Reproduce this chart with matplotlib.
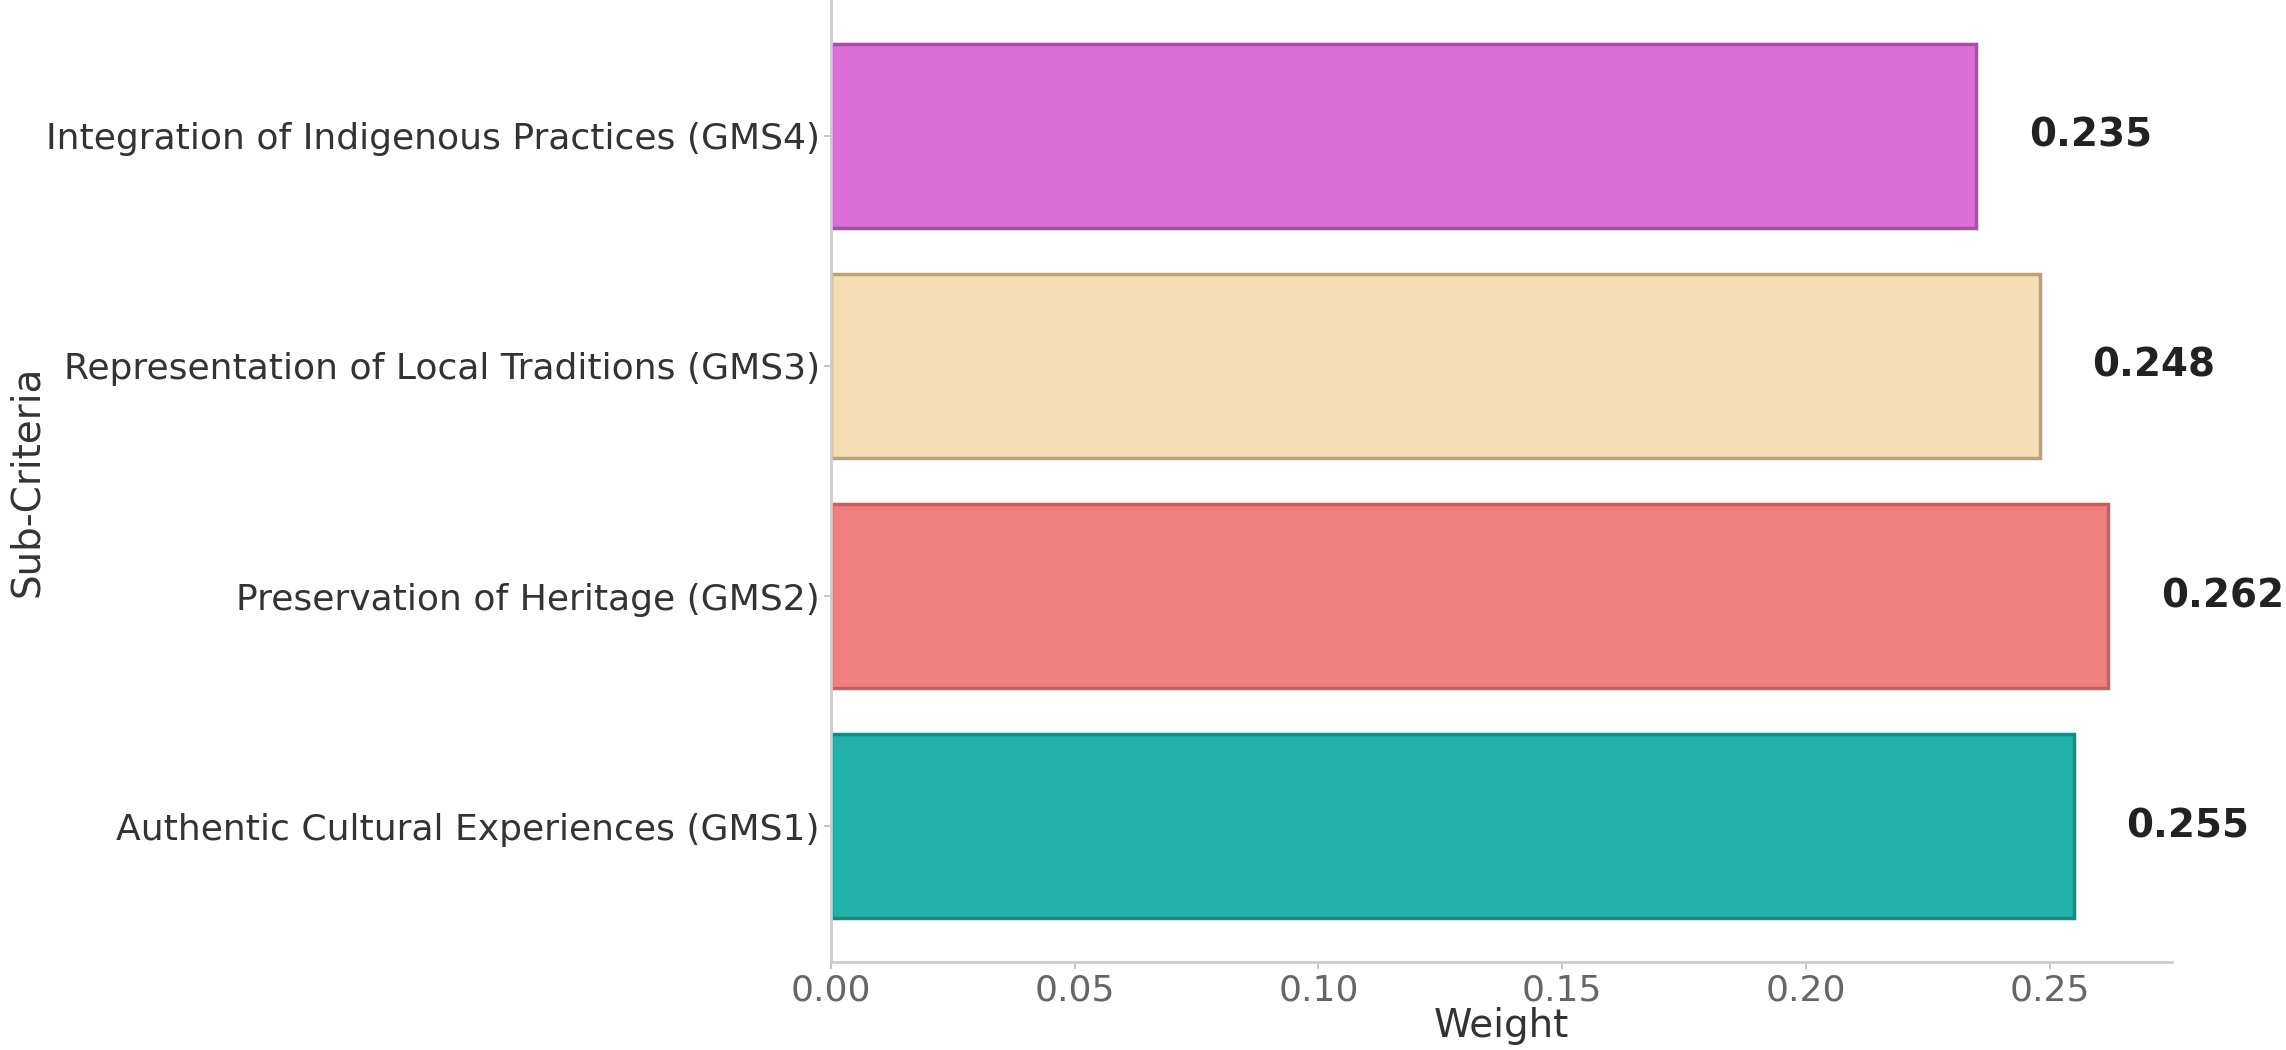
#!/usr/bin/env python3
"""Horizontal bar chart of sub-criteria weights (GMS group)."""

import matplotlib
matplotlib.use("Agg")
import matplotlib.pyplot as plt

# ── Data ──────────────────────────────────────────────────────────────────────

CRITERIA = [
    "Authentic Cultural Experiences (GMS1)",
    "Preservation of Heritage (GMS2)",
    "Representation of Local Traditions (GMS3)",
    "Integration of Indigenous Practices (GMS4)",
]
WEIGHTS = [0.255, 0.262, 0.248, 0.235]
COLORS = ["#20B2AA", "#F08080", "#F5DEB3", "#DA70D6"]
EDGES = ["#138a84", "#c85f5f", "#b9a27a", "#a94fa6"]

plt.rcParams.update({
    "font.family": "DejaVu Sans",
    "axes.spines.top": False,
    "axes.spines.right": False,
})

# ── Figure ────────────────────────────────────────────────────────────────────

fig = plt.figure(figsize=(22.86, 10.5), dpi=100)
ax = fig.add_axes([0.3635, 0.0838, 0.5866, 0.9162])

bars = ax.barh(CRITERIA, WEIGHTS, color=COLORS, edgecolor=EDGES,
               linewidth=2.5, height=0.8)

for bar, w in zip(bars, WEIGHTS):
    ax.text(w + 0.0108, bar.get_y() + bar.get_height() / 2, f"{w:.3f}",
            ha="left", va="center", fontsize=28, fontweight="bold",
            color="#222222")

for side in ("left", "bottom"):
    ax.spines[side].set_color("#cccccc")
    ax.spines[side].set_linewidth(2)

ax.tick_params(axis="both", colors="#bbbbbb", length=5, width=1.2,
               labelsize=26, labelcolor="#666666", pad=3)
ax.tick_params(axis="y", labelsize=26, labelcolor="#333333")
ax.set_xticks([0.0, 0.05, 0.10, 0.15, 0.20, 0.25])
ax.set_xticklabels(["0.00", "0.05", "0.10", "0.15", "0.20", "0.25"])

ax.set_xlabel("Weight", fontsize=28, color="#333333", labelpad=0)
ax.set_ylabel("Sub-Criteria", fontsize=28, color="#333333")
ax.yaxis.set_label_coords(-0.585, 0.5)

fig.savefig("out.png", dpi=100)
plt.close(fig)
